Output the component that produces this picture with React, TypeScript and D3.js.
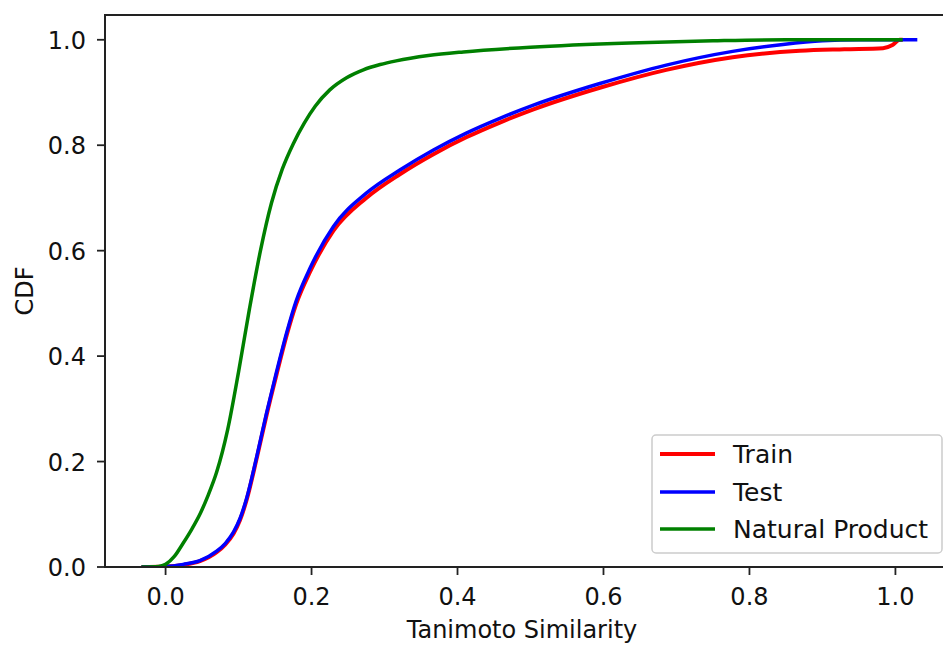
import React from "react";
import * as d3 from "d3";

// Empirical CDFs of Tanimoto similarity
const trainX = [-0.033, 0.0, 0.024, 0.047, 0.07, 0.082, 0.093, 0.102, 0.111, 0.125, 0.138, 0.152, 0.166, 0.179, 0.198, 0.23, 0.275, 0.321, 0.367, 0.412, 0.458, 0.504, 0.595, 0.686, 0.777, 0.869, 0.93, 0.983, 0.996, 1.006, 1.01];
const trainY = [0, 0.001, 0.004, 0.011, 0.028, 0.043, 0.063, 0.089, 0.127, 0.207, 0.286, 0.365, 0.44, 0.499, 0.56, 0.638, 0.7, 0.745, 0.783, 0.815, 0.843, 0.868, 0.909, 0.943, 0.967, 0.979, 0.982, 0.984, 0.99, 1.0, 1.0];

const testX = [-0.033, 0.0, 0.024, 0.047, 0.07, 0.082, 0.093, 0.102, 0.111, 0.125, 0.138, 0.152, 0.166, 0.179, 0.198, 0.23, 0.275, 0.321, 0.367, 0.412, 0.458, 0.504, 0.595, 0.686, 0.777, 0.846, 0.9, 0.95, 1.03];
const testY = [0, 0.001, 0.005, 0.012, 0.03, 0.045, 0.066, 0.092, 0.13, 0.21, 0.29, 0.37, 0.445, 0.505, 0.567, 0.646, 0.709, 0.753, 0.791, 0.823, 0.851, 0.876, 0.917, 0.952, 0.978, 0.991, 0.998, 1.0, 1.0];

const naturalX = [-0.033, -0.01, 0.0, 0.012, 0.024, 0.036, 0.047, 0.058, 0.07, 0.085, 0.1, 0.115, 0.13, 0.145, 0.16, 0.175, 0.19, 0.205, 0.225, 0.248, 0.271, 0.294, 0.316, 0.36, 0.408, 0.5, 0.636, 0.75, 0.85, 1.01];
const naturalY = [0, 0.001, 0.005, 0.02, 0.045, 0.072, 0.1, 0.135, 0.18, 0.26, 0.37, 0.49, 0.6, 0.69, 0.755, 0.803, 0.842, 0.874, 0.905, 0.928, 0.943, 0.953, 0.96, 0.97, 0.977, 0.986, 0.994, 0.998, 1.0, 1.0];

const seriesNames = ["Train", "Test", "Natural Product"];
const seriesColors = ["#ff0000", "#0000ff", "#008000"];
const seriesWidths = [4, 3.5, 3.5];

const xTicks = [0.0, 0.2, 0.4, 0.6, 0.8, 1.0];
const yTicks = [0.0, 0.2, 0.4, 0.6, 0.8, 1.0];

const W = 943;
const H = 645;
const plot = { left: 105, top: 15, right: 956, bottom: 567 };
const FONT = "'DejaVu Sans', sans-serif";

export default function App() {
  const x = d3.scaleLinear().domain([-0.083, 1.083]).range([plot.left, plot.right]);
  const y = d3.scaleLinear().domain([0, 1.047]).range([plot.bottom, plot.top]);

  const line = d3
    .line<[number, number]>()
    .x((d) => x(d[0]))
    .y((d) => y(d[1]))
    .curve(d3.curveMonotoneX);

  const series = [
    d3.zip(trainX, trainY) as [number, number][],
    d3.zip(testX, testY) as [number, number][],
    d3.zip(naturalX, naturalY) as [number, number][],
  ];

  const legend = { x: 652, y: 435, w: 290, h: 118 };
  const rowY = [454, 492, 529];

  return (
    <svg
      width={W}
      height={H}
      style={{ position: "absolute", left: 0, top: 0, display: "block", background: "#fff" }}
    >
      <defs>
        <clipPath id="plotClip">
          <rect x={plot.left} y={plot.top} width={plot.right - plot.left} height={plot.bottom - plot.top} />
        </clipPath>
      </defs>

      <g clipPath="url(#plotClip)">
        {series.map((pts, i) => (
          <path
            key={seriesNames[i]}
            d={line(pts) || ""}
            fill="none"
            stroke={seriesColors[i]}
            strokeWidth={seriesWidths[i]}
            strokeLinejoin="round"
          />
        ))}
      </g>

      {/* frame */}
      <rect
        x={plot.left}
        y={plot.top}
        width={plot.right - plot.left}
        height={plot.bottom - plot.top}
        fill="none"
        stroke="#222"
        strokeWidth={2}
      />

      {/* x axis */}
      {xTicks.map((t) => (
        <g key={"x" + t}>
          <line x1={x(t)} x2={x(t)} y1={plot.bottom} y2={plot.bottom + 8} stroke="#222" strokeWidth={1.8} />
          <text x={x(t)} y={plot.bottom + 38} textAnchor="middle" fontFamily={FONT} fontSize={24} fill="#111">
            {t.toFixed(1)}
          </text>
        </g>
      ))}

      {/* y axis */}
      {yTicks.map((t) => (
        <g key={"y" + t}>
          <line x1={plot.left - 8} x2={plot.left} y1={y(t)} y2={y(t)} stroke="#222" strokeWidth={1.8} />
          <text x={plot.left - 19} y={y(t) + 9} textAnchor="end" fontFamily={FONT} fontSize={24} fill="#111">
            {t.toFixed(1)}
          </text>
        </g>
      ))}

      <text x={522} y={638} textAnchor="middle" fontFamily={FONT} fontSize={24} fill="#111">
        Tanimoto Similarity
      </text>
      <text
        transform={`translate(33, ${(plot.top + plot.bottom) / 2}) rotate(-90)`}
        textAnchor="middle"
        fontFamily={FONT}
        fontSize={24}
        fill="#111"
      >
        CDF
      </text>

      {/* legend */}
      <rect
        x={legend.x}
        y={legend.y}
        width={legend.w}
        height={legend.h}
        rx={4}
        fill="#fff"
        fillOpacity={0.8}
        stroke="#cccccc"
        strokeWidth={1.5}
      />
      {seriesNames.map((name, i) => (
        <g key={"leg" + name}>
          <line x1={660} x2={715} y1={rowY[i]} y2={rowY[i]} stroke={seriesColors[i]} strokeWidth={seriesWidths[i]} />
          <text x={733} y={rowY[i] + 9} fontFamily={FONT} fontSize={25} fill="#111">
            {name}
          </text>
        </g>
      ))}
    </svg>
  );
}
